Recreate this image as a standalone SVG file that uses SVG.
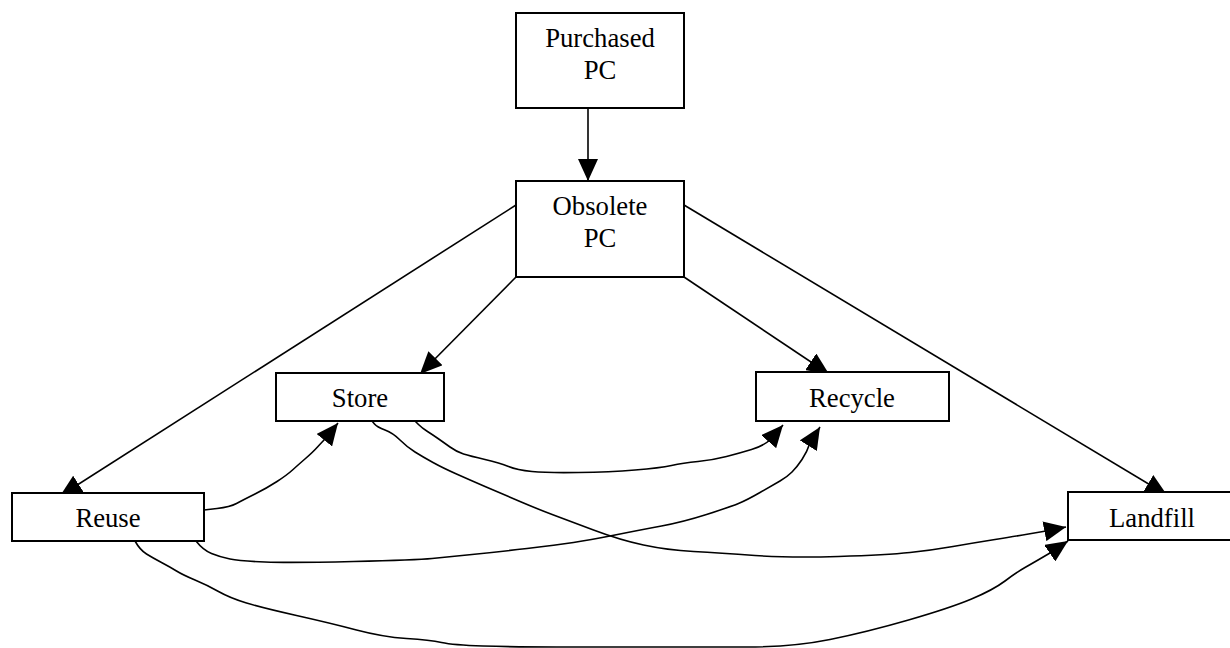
<svg xmlns="http://www.w3.org/2000/svg" width="1230" height="648" viewBox="0 0 1230 648">
<style>
.box{fill:#fff;stroke:#000;stroke-width:2}
.lbl{font-family:"Liberation Serif","Times New Roman",serif;font-size:26.7px;fill:#000;text-anchor:middle}
.c{fill:none;stroke:#000;stroke-width:1.6;stroke-linejoin:round;marker-end:url(#ah)}
</style>
<defs>
<marker id="ah" markerUnits="userSpaceOnUse" markerWidth="22" markerHeight="20" refX="22" refY="10" orient="auto">
<path d="M0,0 L22,10 L0,20 Z" fill="#000"/>
</marker>
</defs>
<g id="connectors">
<path class="c" d="M588,108 L588,181"/>
<path class="c" d="M516,205 L60,496"/>
<path class="c" d="M684,205 L1167,495"/>
<path class="c" d="M516,277 L420,374"/>
<path class="c" d="M684,277 L829,374"/>
<path class="c" d="M204,510 L217,508.5 Q230,507 236.5,503.5 Q243,500 255,494 Q267,488 277,481.5 Q287,475 292.5,470 Q298,465 305.5,458.5 Q313,452 317.5,447 Q322,442 326,438 L338,423"/>
<path class="c" d="M415,421 L418.5,424.5 Q422,428 427.5,431.5 Q433,435 438,438.5 Q443,442 450,447 Q457,452 463.5,454 Q470,456 485,459.5 Q500,463 508.5,466.5 Q517,470 532,471.5 Q547,473 578.5,472.5 Q610,472 635,470 Q660,468 671.5,465.5 Q683,463 698,461.5 Q713,460 726.5,456.5 Q740,453 751.5,449.5 Q763,446 770,440 L783,425"/>
<path class="c" d="M190,541 L193,537 L196,541 Q203,550 211.5,553.5 Q220,557 230,559 Q240,561 265,562 Q290,563 353.5,561.5 Q417,560 432,558.5 Q447,557 472,554.5 Q497,552 527,548.5 Q557,545 573.5,542.5 Q590,540 615,535 Q640,530 661.5,526 Q683,522 706.5,514.5 Q730,507 738.5,503.5 Q747,500 760,492.5 Q773,485 780,481 Q787,477 792,472 Q797,467 802,459.5 Q807,452 810,443 L820,427"/>
<path class="c" d="M372,421 L374.5,424 Q377,427 385,430 Q393,433 400,440 Q407,447 415,452 Q423,457 433,462.5 Q443,468 456.5,474 Q470,480 485,486.5 Q500,493 520,501.5 Q540,510 553.5,515 Q567,520 593.5,530 Q620,540 643.5,545 Q667,550 693.5,551.5 Q720,553 755,555.5 Q790,558 838.5,556.5 Q887,555 910,552.5 Q933,550 953,546.5 Q973,543 995,539.5 Q1017,536 1028.5,534 Q1040,532 1046,531 L1066,527"/>
<path class="c" d="M135,541 Q140,550 146.5,554 Q153,558 161.5,562.5 Q170,567 176.5,571 Q183,575 195,580 Q207,585 218.5,591.5 Q230,598 246.5,603 Q263,608 296.5,615.5 Q330,623 356.5,630 Q383,637 406.5,638.5 Q430,640 441.5,642.5 Q453,645 483,646 Q513,647 556.5,647 L746.5,647 Q793,647 830,639.5 Q867,632 908.5,620 Q950,608 971.5,599 Q993,590 1005,581 Q1017,572 1025,567.5 Q1033,563 1050,553 L1068,541"/>
</g>
<g id="purchased"><rect class="box" x="516" y="13" width="168" height="95"/><text class="lbl" x="600" y="47">Purchased</text><text class="lbl" x="600" y="79">PC</text></g>
<g id="obsolete"><rect class="box" x="516" y="181" width="168" height="96"/><text class="lbl" x="600" y="215">Obsolete</text><text class="lbl" x="600" y="247">PC</text></g>
<g id="store"><rect class="box" x="276" y="373" width="168" height="48"/><text class="lbl" x="360" y="407">Store</text></g>
<g id="recycle"><rect class="box" x="756" y="372" width="193" height="49"/><text class="lbl" x="852" y="407">Recycle</text></g>
<g id="reuse"><rect class="box" x="12" y="493" width="192" height="48"/><text class="lbl" x="108" y="527">Reuse</text></g>
<g id="landfill"><rect class="box" x="1068" y="492" width="168" height="48"/><text class="lbl" x="1152" y="527">Landfill</text></g>
</svg>
